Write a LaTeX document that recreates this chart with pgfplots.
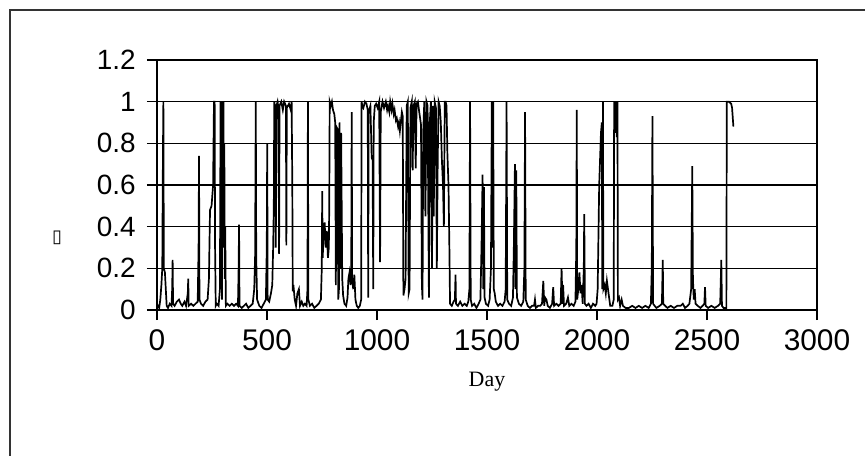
\documentclass[border=0pt]{standalone}
\usepackage{fontspec}
\setmainfont{Liberation Sans}
\newfontfamily\serifdays{Liberation Serif}
\newfontfamily\symfont{DejaVu Sans}
\usepackage{pgfplots}
\pgfplotsset{compat=1.18}

\begin{document}
\begin{tikzpicture}
\useasboundingbox (0,0) rectangle (432.5bp,228bp);
% frame of the scanned chart
\draw[line width=0.8bp, black!80] (5bp,0) -- (5bp,223bp) -- (432.5bp,223bp);
\begin{axis}[
    at={(78.5bp,73bp)}, anchor=south west,
    scale only axis,
    width=330bp, height=125bp,
    xmin=0, xmax=3000, ymin=0, ymax=1.2,
    enlargelimits=false,
    xtick={0,500,1000,1500,2000,2500,3000},
    ytick={0,0.2,0.4,0.6,0.8,1,1.2},
    xtick pos=bottom, ytick pos=left,
    tick align=outside,
    major tick length=5bp,
    tick style={black, line width=0.8bp},
    axis line style={black, line width=0.6bp},
    ymajorgrids,
    grid style={black, line width=0.65bp},
    /pgf/number format/1000 sep={},
    /pgf/number format/assume math mode=true,
    tick label style={font=\fontsize{14}{16}\selectfont},
    xticklabel style={anchor=north, inner sep=0pt, yshift=-4.5bp, font=\fontsize{15}{17}\selectfont},
    yticklabel style={anchor=east, inner sep=0pt, xshift=-5.5bp},
    xlabel={\serifdays Day},
    every axis x label/.style={at={(rel axis cs:0.5,0)}, yshift=-36bp, anchor=center, font=\fontsize{11}{13}\selectfont},
    ylabel={\symfont ▯},
    every axis y label/.style={at={(rel axis cs:0,0.288)}, xshift=-50bp, anchor=center, font=\fontsize{9}{10}\selectfont},
]
\addplot[black, line width=0.85bp] coordinates {
(0,0.01)(5,0.02)(10,0.01)(15,0.05)(20,0.12)(24,0.2)(27,0.75)(29,1)(31,0.2)(36,0.18)(40,0.1)(44,0.02)
(50,0.01)(58,0.03)(66,0.02)(69,0.1)(71,0.24)(73,0.03)(80,0.02)(90,0.04)(100,0.05)(108,0.03)(115,0.02)
(125,0.04)(132,0.02)(140,0.08)(142,0.15)(144,0.02)(155,0.03)(165,0.02)(175,0.03)(185,0.04)(189,0.3)
(191,0.74)(193,0.05)(200,0.03)(210,0.02)(220,0.04)(230,0.05)(236,0.15)(241,0.48)(248,0.5)(255,0.6)
(259,1)(262,1)(264,0.3)(267,0.02)(272,0.03)(280,0.02)(286,0.1)(289,1)(291,0.8)(293,1)(295,0.05)
(298,1)(300,0.9)(302,1)(304,0.3)(306,0.8)(308,0.15)(310,0.4)(313,0.02)(320,0.03)(330,0.02)(340,0.03)
(350,0.02)(360,0.03)(368,0.02)(371,0.2)(373,0.41)(375,0.02)(385,0.01)(395,0.02)(405,0.03)(415,0.01)
(425,0.02)(435,0.03)(442,0.1)(446,0.26)(449,1)(451,0.25)(455,0.05)(465,0.02)(475,0.01)(485,0.03)
(495,0.05)(499,0.3)(501,0.8)(503,0.05)(510,0.04)(518,0.08)(524,0.12)(528,0.3)(531,0.5)(533,1)
(536,0.98)(540,0.3)(543,0.98)(548,1)(552,0.97)(555,0.27)(557,0.98)(565,1)(572,0.96)(578,1)(586,0.98)
(588,0.31)(590,0.97)(600,0.99)(608,0.96)(612,1)(615,0.6)(617,0.09)(620,0.12)(626,0.05)(632,0.02)
(638,0.08)(645,0.1)(650,0.02)(658,0.04)(665,0.02)(672,0.03)(680,0.02)(684,0.1)(686,1)(688,0.05)
(695,0.02)(705,0.03)(715,0.01)(725,0.02)(735,0.03)(745,0.05)(749,0.2)(751,0.57)(753,0.25)(757,0.35)
(762,0.42)(767,0.3)(772,0.38)(777,0.25)(781,0.3)(783,0.5)(785,1)(790,0.98)(795,1)(800,0.96)(806,0.94)
(810,0.9)(813,0.12)(815,0.88)(820,0.87)(824,0.05)(827,0.1)(830,0.9)(833,0.2)(837,0.85)(842,0.15)
(846,0.07)(852,0.03)(860,0.02)(866,0.06)(870,0.15)(875,0.18)(880,0.12)(883,0.2)(885,0.95)(887,0.15)
(892,0.1)(897,0.17)(902,0.05)(908,0.02)(915,0.01)(922,0.02)(928,0.05)(930,1)(933,0.98)(938,0.97)
(945,1)(952,0.99)(958,0.96)(960,0.06)(962,0.95)(970,0.98)(976,0.73)(980,0.72)(983,0.1)(985,0.9)
(990,0.98)(996,0.99)(1003,0.97)(1010,1)(1014,0.23)(1017,0.95)(1025,1)(1032,0.97)(1040,1)(1046,0.96)
(1050,0.98)(1056,0.95)(1060,1)(1066,0.96)(1070,0.99)(1076,0.94)(1080,0.96)(1086,0.91)(1090,0.92)
(1096,0.88)(1100,0.9)(1104,0.86)(1108,0.9)(1113,0.95)(1117,0.93)(1120,0.07)
(1125,0.1)(1130,0.15)(1135,0.98)(1140,1)(1144,0.08)(1148,0.1)(1152,0.97)(1158,1)(1162,0.67)(1166,0.98)
(1172,1)(1176,0.68)(1180,0.99)(1186,1)(1192,0.95)(1200,0.89)(1204,0.12)(1207,0.05)(1210,0.85)(1215,1)
(1220,0.45)(1225,1)(1230,0.98)(1236,0.06)(1240,0.9)(1245,1)(1250,0.2)(1254,0.98)(1258,0.45)(1262,1)
(1268,0.97)(1272,0.2)(1276,0.72)(1280,1)(1285,0.98)(1290,0.9)(1295,0.72)(1300,0.6)(1304,0.4)(1308,1)
(1312,1)(1316,0.98)(1320,0.75)(1325,0.6)(1329,0.3)(1332,0.03)(1340,0.02)(1348,0.04)(1354,0.05)
(1357,0.17)(1359,0.03)(1368,0.02)(1378,0.04)(1388,0.02)(1398,0.03)(1408,0.02)(1415,0.04)(1420,0.1)
(1423,1)(1426,0.05)(1432,0.02)(1442,0.03)(1452,0.01)(1462,0.03)(1470,0.05)(1475,0.3)(1480,0.65)
(1483,0.1)(1486,0.59)(1489,0.06)(1495,0.03)(1505,0.02)(1512,0.05)(1518,0.2)(1522,1)(1525,0.3)(1528,1)
(1531,0.1)(1535,0.08)(1540,0.04)(1550,0.02)(1560,0.03)(1570,0.02)(1580,0.04)(1585,0.1)(1589,1)
(1592,0.05)(1600,0.03)(1610,0.02)(1618,0.06)(1622,0.3)(1627,0.7)(1630,0.1)(1633,0.67)(1636,0.06)
(1645,0.03)(1655,0.02)(1665,0.04)(1670,0.2)(1673,0.95)(1676,0.05)(1685,0.02)(1695,0.01)(1705,0.02)
(1714,0.02)(1718,0.05)(1722,0.01)(1732,0.02)(1742,0.02)(1750,0.03)(1756,0.14)(1760,0.02)(1764,0.06)
(1770,0.05)(1776,0.02)(1786,0.01)(1796,0.03)(1801,0.11)(1805,0.02)(1815,0.03)(1825,0.02)(1835,0.03)
(1839,0.2)(1843,0.03)(1846,0.12)(1850,0.02)(1860,0.03)(1868,0.06)(1874,0.02)(1884,0.03)(1894,0.02)
(1902,0.04)(1906,0.3)(1908,0.96)(1910,0.05)(1915,0.1)(1920,0.18)(1925,0.08)(1930,0.12)(1935,0.03)
(1940,0.2)(1942,0.46)(1945,0.03)(1952,0.02)(1962,0.03)(1972,0.01)(1982,0.03)(1992,0.02)(1998,0.03)
(2003,0.1)(2010,0.6)(2018,0.85)(2022,0.9)(2024,0.1)(2027,1)(2029,0.1)(2035,0.12)(2040,0.08)(2045,0.14)
(2050,0.1)(2055,0.06)(2060,0.02)(2070,0.02)(2076,0.05)(2078,1)(2082,0.85)(2086,1)(2090,0.83)(2093,1)
(2095,0.05)(2100,0.06)(2105,0.02)(2112,0.05)(2118,0.02)(2130,0.01)(2145,0.01)(2160,0.02)(2175,0.01)
(2190,0.02)(2205,0.01)(2220,0.02)(2235,0.01)(2245,0.03)(2249,0.2)(2252,0.93)(2255,0.03)(2262,0.02)
(2270,0.01)(2285,0.02)(2295,0.03)(2299,0.24)(2301,0.03)(2310,0.02)(2320,0.01)(2335,0.02)(2350,0.01)
(2365,0.02)(2380,0.02)(2390,0.03)(2400,0.01)(2412,0.02)(2420,0.03)(2428,0.1)(2433,0.69)(2436,0.15)
(2440,0.05)(2444,0.1)(2448,0.03)(2458,0.02)(2470,0.01)(2480,0.02)(2488,0.03)(2491,0.11)(2494,0.02)
(2505,0.01)(2520,0.02)(2535,0.01)(2550,0.02)(2560,0.03)(2565,0.24)(2568,0.02)(2575,0.01)(2588,0.01)
(2590,1)(2600,1)(2610,0.99)(2614,0.97)(2620,0.88)
};
\end{axis}
\end{tikzpicture}
\end{document}
